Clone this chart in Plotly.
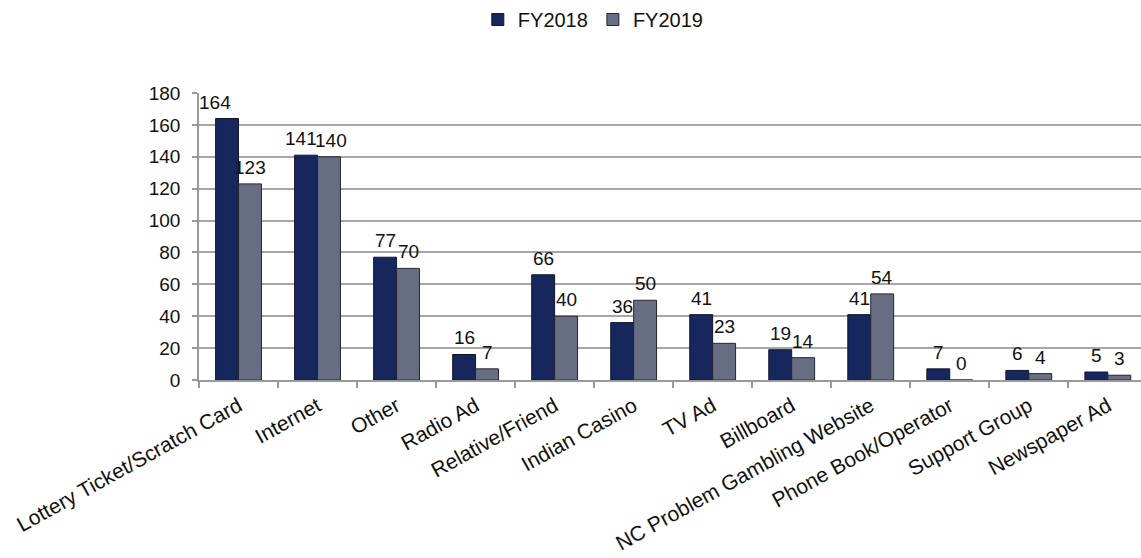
import plotly.graph_objects as go

categories = [
    "Lottery Ticket/Scratch Card", "Internet", "Other", "Radio Ad",
    "Relative/Friend", "Indian Casino", "TV Ad", "Billboard",
    "NC Problem Gambling Website", "Phone Book/Operator",
    "Support Group", "Newspaper Ad",
]
fy2018 = [164, 141, 77, 16, 66, 36, 41, 19, 41, 7, 6, 5]
fy2019 = [123, 140, 70, 7, 40, 50, 23, 14, 54, 0, 4, 3]

FONT = "Liberation Sans, Arial, sans-serif"
BAR_HALF = 11.5          # horizontal offset (px) of each bar centre from its category centre
LABEL_NUDGE = {          # extra px shift for labels that would collide
    ("FY2018", "Lottery Ticket/Scratch Card"): -12,
    ("FY2018", "Internet"): -5,
    ("FY2019", "Internet"): 2,
}

fig = go.Figure()
fig.add_trace(go.Bar(
    name="FY2018", x=categories, y=fy2018,
    marker=dict(color="#16275e", line=dict(color="#15152a", width=1)),
))
fig.add_trace(go.Bar(
    name="FY2019", x=categories, y=fy2019,
    marker=dict(color="#676e84", line=dict(color="#25252c", width=1)),
))

# value labels above each bar
for name, values, side in (("FY2018", fy2018, -1), ("FY2019", fy2019, 1)):
    for cat, v in zip(categories, values):
        fig.add_annotation(
            x=cat, y=v, xref="x", yref="y",
            text=str(v), showarrow=False,
            xanchor="center", yanchor="bottom",
            xshift=side * BAR_HALF + LABEL_NUDGE.get((name, cat), 0),
            yshift=4,
            font=dict(size=19, color="#111111", family=FONT),
        )

fig.update_layout(
    width=1141, height=558,
    margin=dict(l=199, r=0, t=93, b=178),
    paper_bgcolor="white", plot_bgcolor="white",
    barmode="group", bargap=0.42, bargroupgap=0,
    font=dict(family=FONT, size=19, color="#111111"),
    legend=dict(
        orientation="h", xref="container", yref="container",
        x=0.52, y=1.0, xanchor="center", yanchor="top",
        font=dict(size=20), itemwidth=30, traceorder="normal",
    ),
    showlegend=True,
)
fig.update_xaxes(
    range=[-0.5, 11.42],
    showline=True, linecolor="#999999", linewidth=1.5,
    ticks="outside", tickson="boundaries", ticklen=6,
    tickcolor="#999999", tickwidth=1.5,
    tickangle=-29, tickfont=dict(size=21),
    ticklabelstandoff=4,
    showgrid=False,
)
fig.update_yaxes(
    range=[0, 180], dtick=20,
    showline=True, linecolor="#999999", linewidth=1.5,
    ticks="outside", ticklen=5, tickcolor="#999999", tickwidth=1.5,
    ticklabelstandoff=8,
    showgrid=True, gridcolor="#a6a6a6", gridwidth=1.5,
    zeroline=False, tickfont=dict(size=19),
)

fig.write_html("out.html")
